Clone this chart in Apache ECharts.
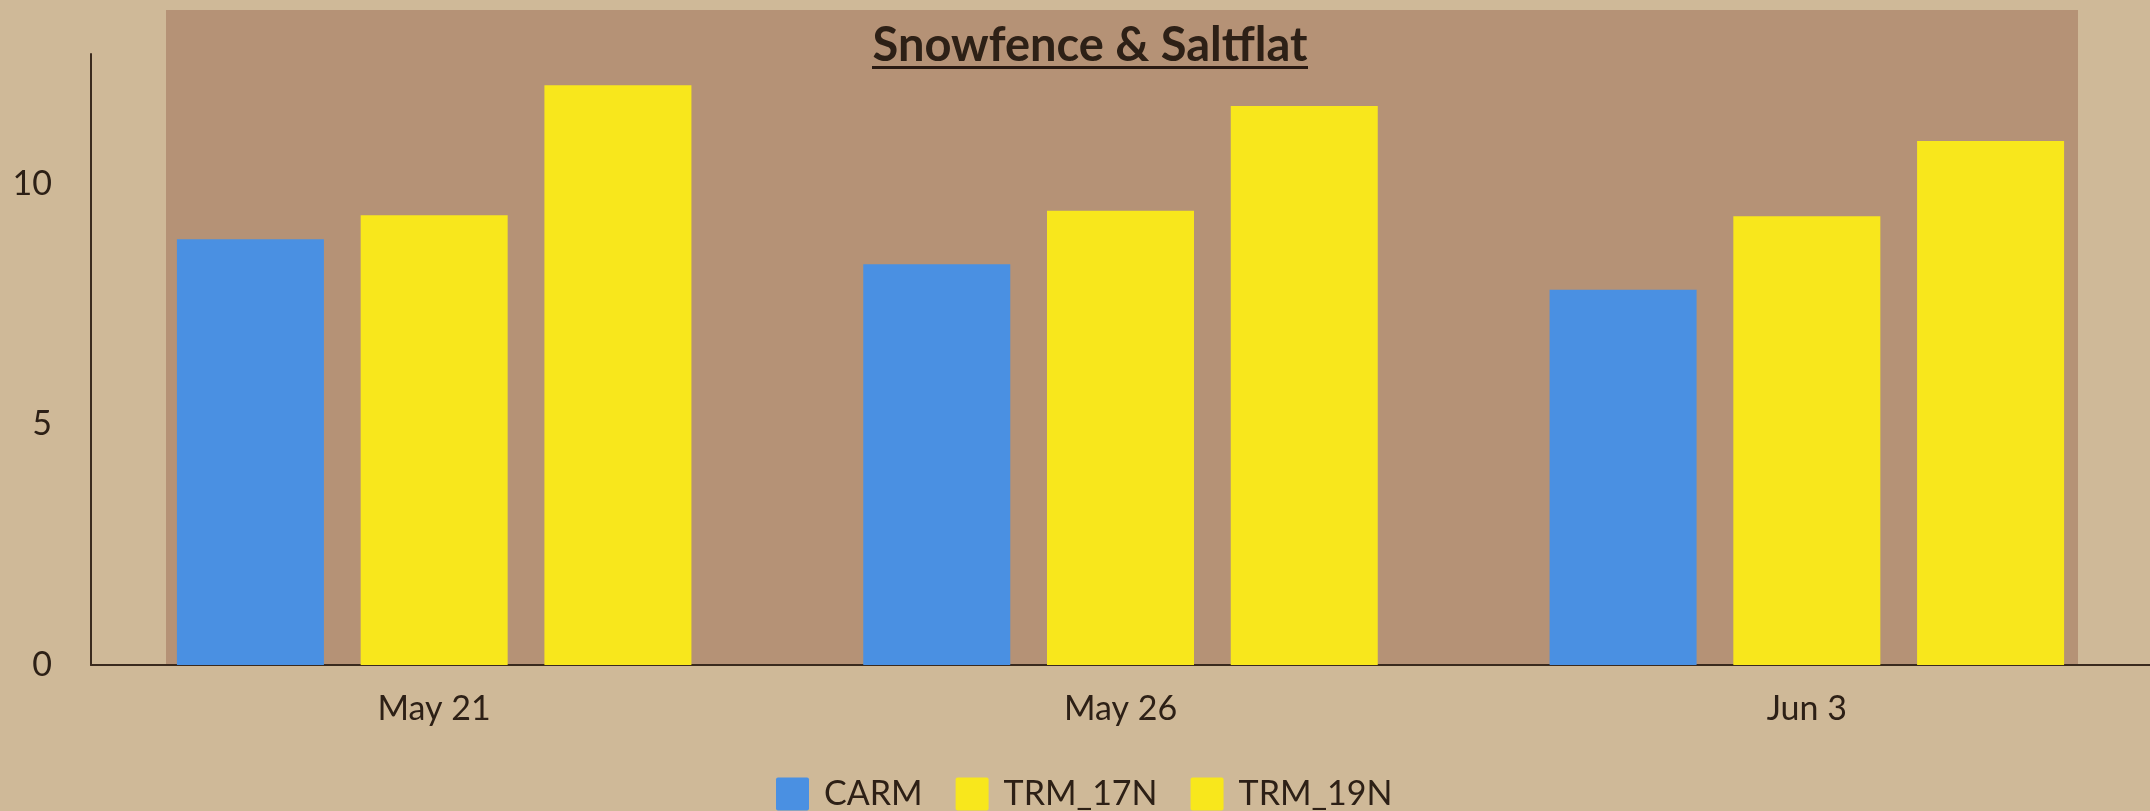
<!DOCTYPE html>
<html>
<head>
<meta charset="utf-8">
<script src="https://cdn.jsdelivr.net/npm/echarts@6/dist/echarts.min.js"></script>
<style>
  html, body { margin: 0; padding: 0; background: #cfb998; }
  #chart { width: 2150px; height: 811px; }
</style>
</head>
<body>
<div id="chart"></div>
<script>
const dates = ['May 21', 'May 26', 'Jun 3'];
const carm = [8.85, 8.33, 7.8];
const trm17 = [9.35, 9.44, 9.33];
const trm19 = [12.05, 11.62, 10.89];

const ink = '#2d2016';
const chart = echarts.init(document.getElementById('chart'));

chart.setOption({
  backgroundColor: '#cfb998',
  textStyle: { fontFamily: 'Lato' },
  graphic: [{
    type: 'rect',
    z: -10,
    shape: { x: 166, y: 10, width: 1912, height: 655 },
    style: { fill: '#b59276' },
    silent: true
  }, {
    type: 'text',
    z: 10,
    x: 1090,
    y: 46,
    style: {
      text: 'Snowfence & Saltflat',
      font: 'bold 47px Lato',
      fill: ink,
      align: 'center',
      verticalAlign: 'middle'
    }
  }, {
    type: 'rect',
    z: 10,
    shape: { x: 872, y: 66, width: 436, height: 3 },
    style: { fill: '#2a1a12' }
  }],
  grid: {
    left: 91,
    right: -2,
    top: 54,
    bottom: 146,
    containLabel: false
  },
  legend: {
    left: 771,
    top: 772,
    itemWidth: 33,
    itemHeight: 33,
    itemGap: 33,
    icon: 'path://M2,0 L31,0 Q33,0 33,2 L33,31 Q33,33 31,33 L2,33 Q0,33 0,31 L0,2 Q0,0 2,0 Z',
    textStyle: {
      fontSize: 34,
      color: ink,
      fontFamily: 'Lato',
      padding: [0, 0, 0, 10]
    },
    data: ['CARM', 'TRM_17N', 'TRM_19N']
  },
  xAxis: {
    type: 'category',
    data: dates,
    axisTick: { show: false },
    axisLine: { lineStyle: { color: '#3a2a1e', width: 2 } },
    axisLabel: { fontSize: 34, color: ink, margin: 27 }
  },
  yAxis: {
    type: 'value',
    min: 0,
    max: 12.7,
    interval: 5,
    splitLine: { show: false },
    axisTick: { show: false },
    axisLine: { show: true, lineStyle: { color: '#3a2a1e', width: 2 } },
    axisLabel: { fontSize: 34, color: ink, margin: 39, showMaxLabel: false }
  },
  series: [{
    name: 'CARM',
    type: 'bar',
    barWidth: 147,
    barGap: '25%',
    itemStyle: { color: '#4a90e2' },
    data: carm
  }, {
    name: 'TRM_17N',
    type: 'bar',
    barWidth: 147,
    barGap: '25%',
    itemStyle: { color: '#f8e71c' },
    data: trm17
  }, {
    name: 'TRM_19N',
    type: 'bar',
    barWidth: 147,
    barGap: '25%',
    itemStyle: { color: '#f8e71c' },
    data: trm19
  }]
});
</script>
</body>
</html>
